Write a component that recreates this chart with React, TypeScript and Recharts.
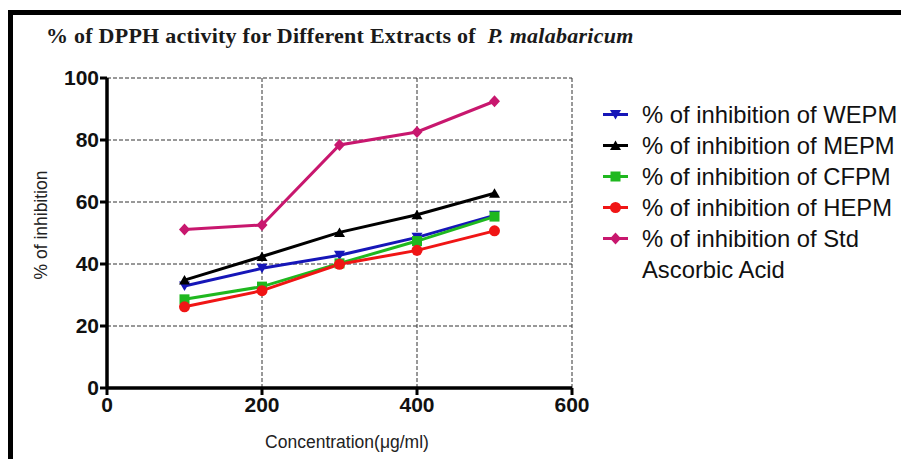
import React from "react";
import {
  LineChart, Line, XAxis, YAxis, CartesianGrid, Legend,
} from "recharts";

// Concentration (µg/ml) and % inhibition
const concentrations = [100, 200, 300, 400, 500];
const wepm = [32.9, 38.6, 42.8, 48.6, 55.7];
const mepm = [34.8, 42.4, 50.2, 55.9, 62.8];
const cfpm = [28.6, 32.7, 40.2, 47.4, 55.3];
const hepm = [26.2, 31.4, 39.9, 44.4, 50.7];
const stdAscorbic = [51.1, 52.6, 78.4, 82.6, 92.5];

const xTicks = [0, 200, 400, 600];
const yTicks = [0, 20, 40, 60, 80, 100];

const data = concentrations.map((c, i) => ({
  conc: c,
  wepm: wepm[i],
  mepm: mepm[i],
  cfpm: cfpm[i],
  hepm: hepm[i],
  std: stdAscorbic[i],
}));

type Shape = "tri-down" | "tri-up" | "square" | "circle" | "diamond";

function marker(shape: Shape, cx: number, cy: number, color: string, key?: string | number) {
  switch (shape) {
    case "tri-down":
      return <polygon key={key} points={`${cx - 5.5},${cy - 4.5} ${cx + 5.5},${cy - 4.5} ${cx},${cy + 5}`} fill={color} />;
    case "tri-up":
      return <polygon key={key} points={`${cx - 5.5},${cy + 4.5} ${cx + 5.5},${cy + 4.5} ${cx},${cy - 5}`} fill={color} />;
    case "square":
      return <rect key={key} x={cx - 5} y={cy - 5} width={10} height={10} fill={color} />;
    case "circle":
      return <circle key={key} cx={cx} cy={cy} r={5.5} fill={color} />;
    default:
      return <polygon key={key} points={`${cx},${cy - 6} ${cx + 5.5},${cy} ${cx},${cy + 6} ${cx - 5.5},${cy}`} fill={color} />;
  }
}

const series: { key: string; name: string[]; color: string; shape: Shape }[] = [
  { key: "wepm", name: ["% of inhibition of WEPM"], color: "#1616b8", shape: "tri-down" },
  { key: "mepm", name: ["% of inhibition of MEPM"], color: "#000000", shape: "tri-up" },
  { key: "cfpm", name: ["% of inhibition of CFPM"], color: "#1fb81f", shape: "square" },
  { key: "hepm", name: ["% of inhibition of HEPM"], color: "#f01515", shape: "circle" },
  { key: "std", name: ["% of inhibition of Std", "Ascorbic Acid"], color: "#c8176e", shape: "diamond" },
];

const LegendBox = () => (
  <div style={{ fontFamily: "Liberation Sans, Arial, sans-serif", fontSize: 23.8, color: "#111", lineHeight: "31px" }}>
    {series.map((s) => (
      <div key={s.key} style={{ display: "flex", alignItems: "flex-start" }}>
        <svg width={42} height={31} style={{ flexShrink: 0 }}>
          <line x1={3} y1={15.5} x2={28} y2={15.5} stroke={s.color} strokeWidth={3} />
          {marker(s.shape, 15.5, 15.5, s.color)}
        </svg>
        <div style={{ whiteSpace: "nowrap" }}>
          {s.name.map((n) => <div key={n}>{n}</div>)}
        </div>
      </div>
    ))}
  </div>
);

const YLabel = () => (
  <text x={42} y={225} transform="rotate(-90 42 225)" textAnchor="middle" dominantBaseline="middle"
    fontFamily="Liberation Sans, Arial, sans-serif" fontSize={17.5} fill="#222">
    % of inhibition
  </text>
);

const XLabel = () => (
  <text x={347} y={448} textAnchor="middle"
    fontFamily="Liberation Sans, Arial, sans-serif" fontSize={17.5} fill="#222">
    Concentration(μg/ml)
  </text>
);

export default function App() {
  const tickStyle = { fill: "#111", fontSize: 21, fontWeight: 700, fontFamily: "Liberation Sans, Arial, sans-serif" };
  return (
    <div style={{ position: "absolute", left: 0, top: 0, width: 901, height: 459, background: "#fff", overflow: "hidden" }}>
      <div style={{ position: "absolute", left: 8, top: 10, width: 1000, height: 600, border: "5px solid #000", boxSizing: "border-box" }} />
      <div style={{ position: "absolute", left: 46, top: 23, fontFamily: "Liberation Serif, serif", fontWeight: 700, fontSize: 22, letterSpacing: 0.25, color: "#1a1a1a", whiteSpace: "nowrap" }}>
        % of DPPH activity for Different Extracts of <i>&nbsp;P. malabaricum</i>
      </div>
      <div style={{ position: "absolute", left: 0, top: 0 }}>
        <LineChart width={901} height={459} data={data} margin={{ top: 78, right: 329, bottom: 21, left: 32 }}>
          <CartesianGrid stroke="#333" strokeDasharray="4 2" strokeWidth={1} />
          <XAxis
            dataKey="conc"
            type="number"
            domain={[0, 600]}
            ticks={xTicks}
            height={50}
            axisLine={{ stroke: "#000", strokeWidth: 3.5 }}
            tickLine={{ stroke: "#000", strokeWidth: 3 }}
            tickSize={7}
            tick={tickStyle}
            label={<XLabel />}
          />
          <YAxis
            type="number"
            domain={[0, 100]}
            ticks={yTicks}
            width={75}
            axisLine={{ stroke: "#000", strokeWidth: 3.5 }}
            tickLine={{ stroke: "#000", strokeWidth: 3 }}
            tickSize={7}
            tickMargin={1}
            tick={tickStyle}
            label={<YLabel />}
          />
          <Legend
            layout="vertical"
            align="center"
            verticalAlign="middle"
            wrapperStyle={{ left: 600, top: 99, width: 320 }}
            content={<LegendBox />}
          />
          {series.map((s) => (
            <Line
              key={s.key}
              dataKey={s.key}
              name={s.name.join(" ")}
              type="linear"
              stroke={s.color}
              strokeWidth={3}
              isAnimationActive={false}
              dot={(p: any) => marker(s.shape, p.cx, p.cy, s.color, p.index)}
              activeDot={false}
            />
          ))}
        </LineChart>
      </div>
    </div>
  );
}
